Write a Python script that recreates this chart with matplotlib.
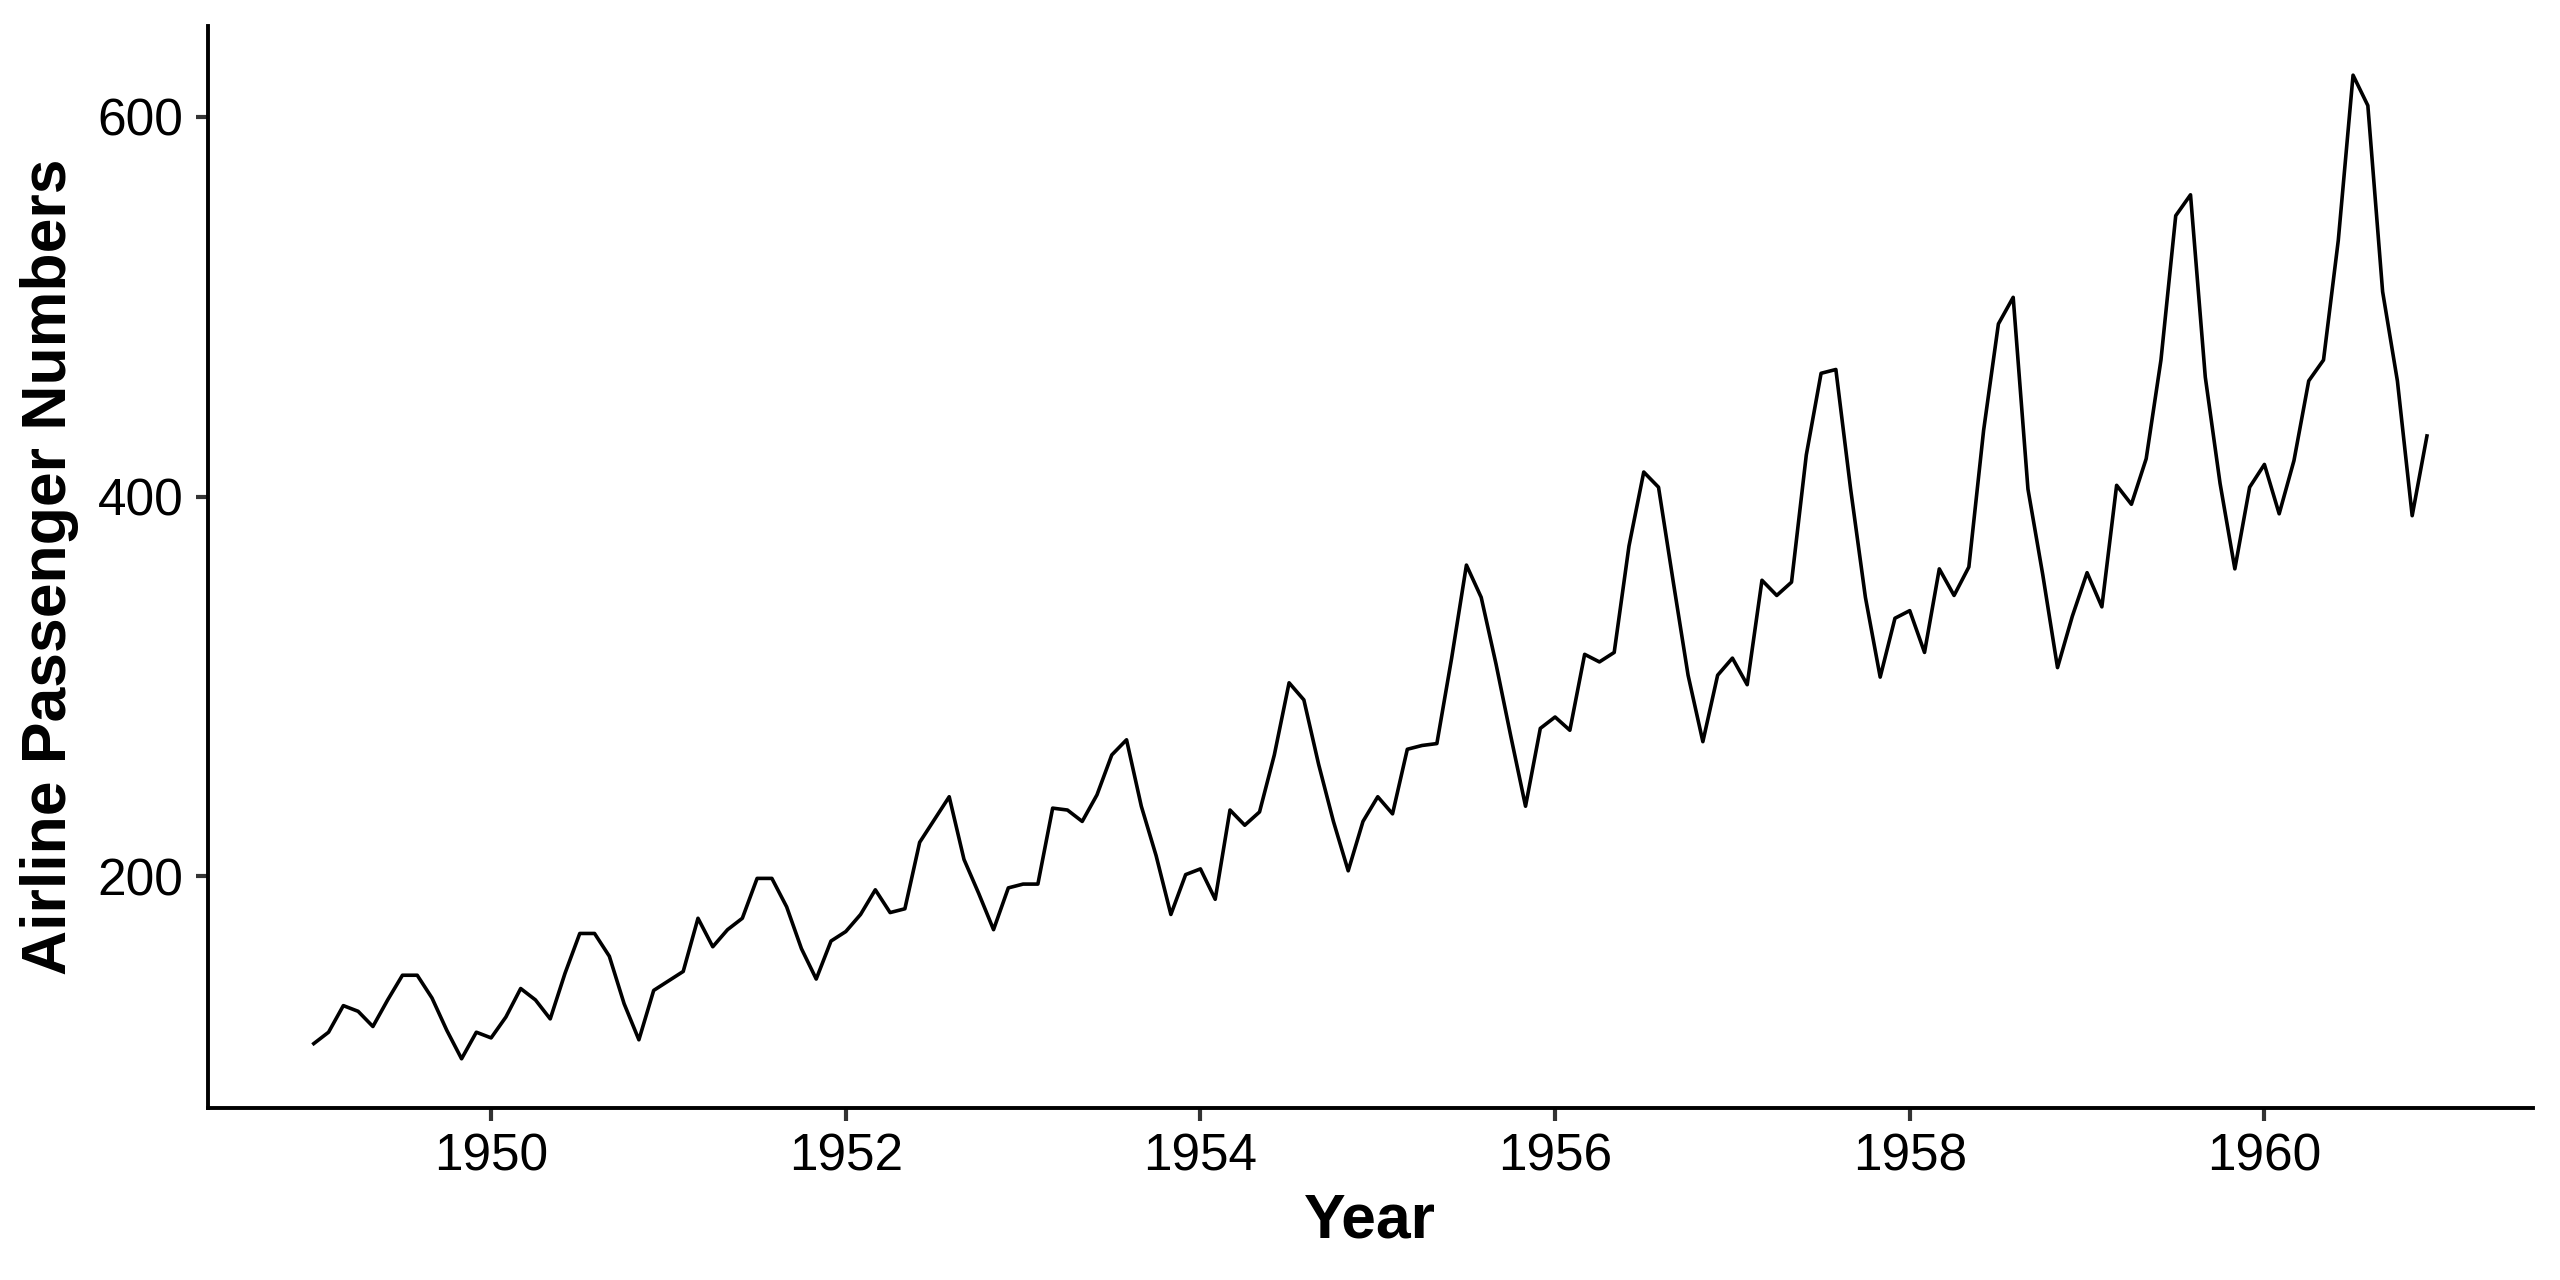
import matplotlib.pyplot as plt
import numpy as np

plt.rcParams['font.family'] = ['Liberation Sans', 'DejaVu Sans']

# monthly airline passengers (thousands), 1949-1960
years = list(range(1949, 1961))
passengers = [
    112, 118, 132, 129, 121, 135, 148, 148, 136, 119, 104, 118,
    115, 126, 141, 135, 125, 149, 170, 170, 158, 133, 114, 140,
    145, 150, 178, 163, 172, 178, 199, 199, 184, 162, 146, 166,
    171, 180, 193, 181, 183, 218, 230, 242, 209, 191, 172, 194,
    196, 196, 236, 235, 229, 243, 264, 272, 237, 211, 180, 201,
    204, 188, 235, 227, 234, 264, 302, 293, 259, 229, 203, 229,
    242, 233, 267, 269, 270, 315, 364, 347, 312, 274, 237, 278,
    284, 277, 317, 313, 318, 374, 413, 405, 355, 306, 271, 306,
    315, 301, 356, 348, 355, 422, 465, 467, 404, 347, 305, 336,
    340, 318, 362, 348, 363, 435, 491, 505, 404, 359, 310, 337,
    360, 342, 406, 396, 420, 472, 548, 559, 463, 407, 362, 405,
    417, 391, 419, 461, 472, 535, 622, 606, 508, 461, 390, 432,
]
x_ticks = [1950, 1952, 1954, 1956, 1958, 1960]
y_ticks = [200, 400, 600]

t = np.array([y + m / 12 for y in years for m in range(12)])
vals = np.array(passengers)

fig = plt.figure(figsize=(12.8, 6.4), dpi=200)
ax = fig.add_axes([0.0813, 0.1344, 0.9080, 0.8453])

ax.plot(t, vals, color='black', linewidth=1.3)

# ggplot-style 5% expansion
xr = t.max() - t.min()
yr = vals.max() - vals.min()
ax.set_xlim(t.min() - 0.05 * xr, t.max() + 0.05 * xr)
ax.set_ylim(vals.min() - 0.05 * yr, vals.max() + 0.05 * yr)

ax.set_xticks(x_ticks)
ax.set_yticks(y_ticks)

for side in ['top', 'right']:
    ax.spines[side].set_visible(False)
for side in ['left', 'bottom']:
    ax.spines[side].set_linewidth(1.4)
    ax.spines[side].set_color('black')

ax.tick_params(axis='both', length=4.5, width=1.5, color='#333333',
               labelsize=18.5, labelcolor='black', pad=4.5)

ax.set_xlabel('Year', fontsize=22.5, fontweight='bold', va='center')
ax.set_ylabel('Airline Passenger Numbers', fontsize=22.5, fontweight='bold', va='center')
ax.xaxis.set_label_coords(0.5, -0.1045)
ax.yaxis.set_label_coords(-0.0684, 0.5)

fig.savefig('out.png', dpi=200, facecolor='white')
